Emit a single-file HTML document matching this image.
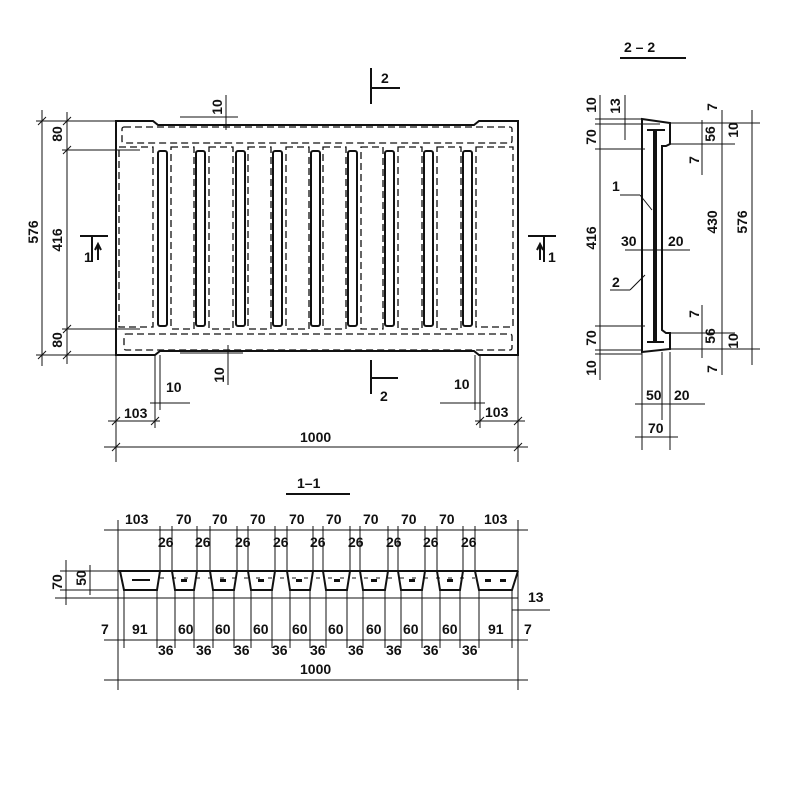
<!DOCTYPE html>
<html><head><meta charset="utf-8"><style>
html,body{margin:0;padding:0;background:#fff}
svg{display:block}
text{font-family:"Liberation Sans",sans-serif;font-weight:bold;font-size:14px;fill:#111}
.l{stroke:#111;stroke-width:1;fill:none}
.t{stroke:#111;stroke-width:2;fill:none}
.d{stroke:#111;stroke-width:1.3;fill:none;stroke-dasharray:7,4}
</style></head><body>
<svg width="800" height="800" viewBox="0 0 800 800">
<!-- PLAN -->
<path class="t" d="M116,121 L153,121 L158,125 L474,125 L479,121 L518,121 L518,355 L479,355 L474,351 L160,351 L155,355 L116,355 Z"/>
<rect class="d" x="122" y="127" width="390" height="16" rx="2"/>
<rect class="d" x="124" y="334" width="388" height="16" rx="2"/>
<g class="d">
<rect x="119" y="147" width="34" height="180"/>
<rect x="171" y="147" width="23" height="182"/>
<rect x="209" y="147" width="24" height="182"/>
<rect x="248" y="147" width="23" height="182"/>
<rect x="286" y="147" width="23" height="182"/>
<rect x="323" y="147" width="23" height="182"/>
<rect x="361" y="147" width="22" height="182"/>
<rect x="398" y="147" width="24" height="182"/>
<rect x="437" y="147" width="24" height="182"/>
<rect x="476" y="147" width="37" height="180"/>
</g>
<g class="t">
<rect x="158" y="151" width="9" height="175" rx="2"/>
<rect x="196" y="151" width="9" height="175" rx="2"/>
<rect x="236" y="151" width="9" height="175" rx="2"/>
<rect x="273" y="151" width="9" height="175" rx="2"/>
<rect x="311" y="151" width="9" height="175" rx="2"/>
<rect x="348" y="151" width="9" height="175" rx="2"/>
<rect x="385" y="151" width="9" height="175" rx="2"/>
<rect x="424" y="151" width="9" height="175" rx="2"/>
<rect x="463" y="151" width="9" height="175" rx="2"/>
</g>
<!-- plan left dims -->
<g class="l">
<line x1="42" y1="110" x2="42" y2="366"/><line x1="67" y1="112" x2="67" y2="364"/>
<line x1="36" y1="121" x2="116" y2="121"/><line x1="36" y1="355" x2="116" y2="355"/>
<line x1="62" y1="150" x2="140" y2="150"/><line x1="62" y1="329" x2="140" y2="329"/>
<line x1="38" y1="125" x2="46" y2="117"/><line x1="38" y1="359" x2="46" y2="351"/>
<line x1="63" y1="125" x2="71" y2="117"/><line x1="63" y1="154" x2="71" y2="146"/>
<line x1="63" y1="333" x2="71" y2="325"/><line x1="63" y1="359" x2="71" y2="351"/>
</g>
<text transform="translate(38,232) rotate(-90)" text-anchor="middle">576</text>
<text transform="translate(62,240) rotate(-90)" text-anchor="middle">416</text>
<text transform="translate(62,134) rotate(-90)" text-anchor="middle">80</text>
<text transform="translate(62,340) rotate(-90)" text-anchor="middle">80</text>
<!-- section marks -->
<path class="t" stroke-width="3" d="M80,236 L108,236 M92,236 L92,262"/>
<text x="84" y="262" font-size="16">1</text><path class="t" d="M98,260 L98,246 M95,250 L98,244 L101,250"/>
<path class="t" stroke-width="3" d="M528,236 L556,236 M544,236 L544,262"/>
<text x="548" y="262" font-size="16">1</text><path class="t" d="M540,260 L540,246 M537,250 L540,244 L543,250"/>
<path class="t" stroke-width="3" d="M371,68 L371,104 M371,88 L400,88"/><text x="381" y="83" font-size="17">2</text>
<path class="t" stroke-width="3" d="M371,360 L371,394 M371,378 L398,378"/><text x="380" y="401" font-size="17">2</text>
<!-- top/bottom 10 -->
<g class="l"><line x1="226" y1="95" x2="226" y2="130"/><line x1="180" y1="117" x2="238" y2="117"/>
<line x1="228" y1="345" x2="228" y2="385"/><line x1="180" y1="353" x2="243" y2="353"/></g>
<text transform="translate(222,107) rotate(-90)" text-anchor="middle">10</text>
<text transform="translate(224,375) rotate(-90)" text-anchor="middle">10</text>
<!-- bottom dims -->
<g class="l">
<line x1="116" y1="355" x2="116" y2="462"/><line x1="518" y1="355" x2="518" y2="462"/>
<line x1="155" y1="355" x2="155" y2="428"/><line x1="160" y1="355" x2="160" y2="410"/>
<line x1="475" y1="355" x2="475" y2="410"/><line x1="480" y1="355" x2="480" y2="428"/>
<line x1="150" y1="403" x2="190" y2="403"/><line x1="440" y1="403" x2="485" y2="403"/>
<line x1="108" y1="421" x2="160" y2="421"/><line x1="475" y1="421" x2="525" y2="421"/>
<line x1="104" y1="447" x2="528" y2="447"/>
<line x1="112" y1="425" x2="120" y2="417"/><line x1="151" y1="425" x2="159" y2="417"/>
<line x1="476" y1="425" x2="484" y2="417"/><line x1="514" y1="425" x2="522" y2="417"/>
<line x1="112" y1="451" x2="120" y2="443"/><line x1="514" y1="451" x2="522" y2="443"/>
</g>
<text x="166" y="392">10</text><text x="454" y="389">10</text>
<text x="124" y="418">103</text><text x="485" y="417">103</text>
<text x="300" y="442">1000</text>
<!-- SECTION 1-1 -->
<text x="297" y="488" font-size="18">1–1</text>
<line class="t" x1="286" y1="494" x2="350" y2="494"/>
<line class="t" x1="118" y1="571" x2="518" y2="571"/>
<line class="l" x1="60" y1="571" x2="118" y2="571"/>
<line class="l" x1="60" y1="590" x2="118" y2="590"/>
<line class="l" x1="55" y1="598" x2="518" y2="598"/>
<g class="t">
<path d="M120,571 L124,590 L157,590 L160,571"/>
<path d="M172,571 L175,590 L194,590 L197,571"/>
<path d="M210,571 L213,590 L234,590 L237,571"/>
<path d="M248,571 L251,590 L272,590 L275,571"/>
<path d="M287,571 L290,590 L310,590 L313,571"/>
<path d="M323,571 L326,590 L347,590 L350,571"/>
<path d="M360,571 L363,590 L385,590 L388,571"/>
<path d="M398,571 L401,590 L422,590 L425,571"/>
<path d="M437,571 L440,590 L460,590 L463,571"/>
<path d="M475,571 L479,590 L512,590 L518,571"/>
</g>
<g fill="#111">
<rect x="132" y="579" width="18" height="2"/><rect x="181" y="579" width="6" height="3"/><rect x="220" y="579" width="6" height="3"/>
<rect x="258" y="579" width="6" height="3"/><rect x="296" y="579" width="6" height="3"/><rect x="334" y="579" width="6" height="3"/>
<rect x="371" y="579" width="6" height="3"/><rect x="409" y="579" width="6" height="3"/><rect x="447" y="579" width="6" height="3"/>
<rect x="485" y="579" width="6" height="3"/><rect x="500" y="579" width="6" height="3"/>
</g>
<g class="l" stroke-dasharray="4,8"><line x1="160" y1="578" x2="475" y2="578"/></g>
<g class="l">
<line x1="104" y1="530" x2="528" y2="530"/>
<line x1="118" y1="520" x2="118" y2="690"/><line x1="518" y1="520" x2="518" y2="690"/>
<line x1="160" y1="526" x2="160" y2="571"/><line x1="172" y1="526" x2="172" y2="571"/>
<line x1="197" y1="526" x2="197" y2="571"/><line x1="210" y1="526" x2="210" y2="571"/>
<line x1="237" y1="526" x2="237" y2="571"/><line x1="248" y1="526" x2="248" y2="571"/>
<line x1="275" y1="526" x2="275" y2="571"/><line x1="287" y1="526" x2="287" y2="571"/>
<line x1="313" y1="526" x2="313" y2="571"/><line x1="323" y1="526" x2="323" y2="571"/>
<line x1="350" y1="526" x2="350" y2="571"/><line x1="360" y1="526" x2="360" y2="571"/>
<line x1="388" y1="526" x2="388" y2="571"/><line x1="398" y1="526" x2="398" y2="571"/>
<line x1="425" y1="526" x2="425" y2="571"/><line x1="437" y1="526" x2="437" y2="571"/>
<line x1="463" y1="526" x2="463" y2="571"/><line x1="475" y1="526" x2="475" y2="571"/>
<line x1="104" y1="640" x2="528" y2="640"/>
<line x1="124" y1="590" x2="124" y2="648"/><line x1="157" y1="590" x2="157" y2="648"/>
<line x1="175" y1="590" x2="175" y2="648"/><line x1="194" y1="590" x2="194" y2="648"/>
<line x1="213" y1="590" x2="213" y2="648"/><line x1="234" y1="590" x2="234" y2="648"/>
<line x1="251" y1="590" x2="251" y2="648"/><line x1="272" y1="590" x2="272" y2="648"/>
<line x1="290" y1="590" x2="290" y2="648"/><line x1="310" y1="590" x2="310" y2="648"/>
<line x1="326" y1="590" x2="326" y2="648"/><line x1="347" y1="590" x2="347" y2="648"/>
<line x1="363" y1="590" x2="363" y2="648"/><line x1="385" y1="590" x2="385" y2="648"/>
<line x1="401" y1="590" x2="401" y2="648"/><line x1="422" y1="590" x2="422" y2="648"/>
<line x1="440" y1="590" x2="440" y2="648"/><line x1="460" y1="590" x2="460" y2="648"/>
<line x1="479" y1="590" x2="479" y2="648"/><line x1="512" y1="590" x2="512" y2="648"/>
<line x1="104" y1="680" x2="528" y2="680"/>
<line x1="66" y1="560" x2="66" y2="605"/><line x1="90" y1="565" x2="90" y2="595"/>
<line x1="512" y1="610" x2="550" y2="610"/>
</g>
<text x="125" y="524">103</text><text x="176" y="524">70</text><text x="212" y="524">70</text><text x="250" y="524">70</text>
<text x="289" y="524">70</text><text x="326" y="524">70</text><text x="363" y="524">70</text><text x="401" y="524">70</text>
<text x="439" y="524">70</text><text x="484" y="524">103</text>
<text x="158" y="547">26</text><text x="195" y="547">26</text><text x="235" y="547">26</text><text x="273" y="547">26</text>
<text x="310" y="547">26</text><text x="348" y="547">26</text><text x="386" y="547">26</text><text x="423" y="547">26</text><text x="461" y="547">26</text>
<text x="101" y="634">7</text><text x="132" y="634">91</text><text x="178" y="634">60</text><text x="215" y="634">60</text>
<text x="253" y="634">60</text><text x="292" y="634">60</text><text x="328" y="634">60</text><text x="366" y="634">60</text>
<text x="403" y="634">60</text><text x="442" y="634">60</text><text x="488" y="634">91</text><text x="524" y="634">7</text>
<text x="158" y="655">36</text><text x="196" y="655">36</text><text x="234" y="655">36</text><text x="272" y="655">36</text>
<text x="310" y="655">36</text><text x="348" y="655">36</text><text x="386" y="655">36</text><text x="423" y="655">36</text><text x="462" y="655">36</text>
<text x="300" y="674">1000</text>
<text transform="translate(62,582) rotate(-90)" text-anchor="middle">70</text>
<text transform="translate(86,578) rotate(-90)" text-anchor="middle">50</text>
<text x="528" y="602">13</text>
<!-- SECTION 2-2 -->
<text x="624" y="52" font-size="18">2 – 2</text>
<line class="t" x1="620" y1="58" x2="686" y2="58"/>
<path class="t" d="M642,119 L670,123 L670,144 L666,146 L662,146 L662,330 L666,333 L670,333 L670,349 L642,352 Z"/>
<line x1="655" y1="130" x2="655" y2="343" stroke="#111" stroke-width="4"/>
<path class="t" d="M647,130 L665,130 M647,342 L664,342"/>
<g class="l">
<line x1="600" y1="95" x2="600" y2="380"/><line x1="625" y1="95" x2="625" y2="140"/>
<line x1="595" y1="119" x2="642" y2="119"/><line x1="595" y1="124" x2="660" y2="124"/>
<line x1="595" y1="149" x2="645" y2="149"/><line x1="595" y1="326" x2="645" y2="326"/>
<line x1="595" y1="350" x2="642" y2="350"/><line x1="595" y1="354" x2="642" y2="354"/>
<line x1="670" y1="123" x2="760" y2="123"/><line x1="670" y1="144" x2="735" y2="144"/>
<line x1="670" y1="333" x2="735" y2="333"/><line x1="670" y1="349" x2="760" y2="349"/>
<line x1="702" y1="120" x2="702" y2="175"/><line x1="702" y1="305" x2="702" y2="358"/>
<line x1="722" y1="110" x2="722" y2="375"/><line x1="752" y1="110" x2="752" y2="365"/>
<line x1="620" y1="195" x2="640" y2="195"/><line x1="640" y1="195" x2="652" y2="210"/>
<line x1="610" y1="290" x2="630" y2="290"/><line x1="630" y1="290" x2="645" y2="275"/>
<line x1="625" y1="250" x2="690" y2="250"/>
<line x1="642" y1="352" x2="642" y2="450"/><line x1="662" y1="352" x2="662" y2="420"/>
<line x1="670" y1="352" x2="670" y2="450"/>
<line x1="635" y1="404" x2="705" y2="404"/><line x1="635" y1="437" x2="678" y2="437"/>
</g>
<text transform="translate(596,105) rotate(-90)" text-anchor="middle">10</text>
<text transform="translate(620,106) rotate(-90)" text-anchor="middle">13</text>
<text transform="translate(596,137) rotate(-90)" text-anchor="middle">70</text>
<text transform="translate(596,238) rotate(-90)" text-anchor="middle">416</text>
<text transform="translate(596,338) rotate(-90)" text-anchor="middle">70</text>
<text transform="translate(596,368) rotate(-90)" text-anchor="middle">10</text>
<text transform="translate(717,107) rotate(-90)" text-anchor="middle">7</text>
<text transform="translate(715,134) rotate(-90)" text-anchor="middle" font-size="12">56</text>
<text transform="translate(738,130) rotate(-90)" text-anchor="middle" font-size="12">10</text>
<text transform="translate(699,160) rotate(-90)" text-anchor="middle">7</text>
<text transform="translate(717,222) rotate(-90)" text-anchor="middle">430</text>
<text transform="translate(747,222) rotate(-90)" text-anchor="middle">576</text>
<text transform="translate(699,314) rotate(-90)" text-anchor="middle">7</text>
<text transform="translate(715,336) rotate(-90)" text-anchor="middle" font-size="12">56</text>
<text transform="translate(738,341) rotate(-90)" text-anchor="middle" font-size="12">10</text>
<text transform="translate(717,369) rotate(-90)" text-anchor="middle">7</text>
<text x="612" y="191" font-size="16">1</text>
<text x="612" y="287" font-size="16">2</text>
<text x="621" y="246">30</text><text x="668" y="246">20</text>
<text x="646" y="400">50</text><text x="674" y="400">20</text><text x="648" y="433">70</text>
</svg>
</body></html>
